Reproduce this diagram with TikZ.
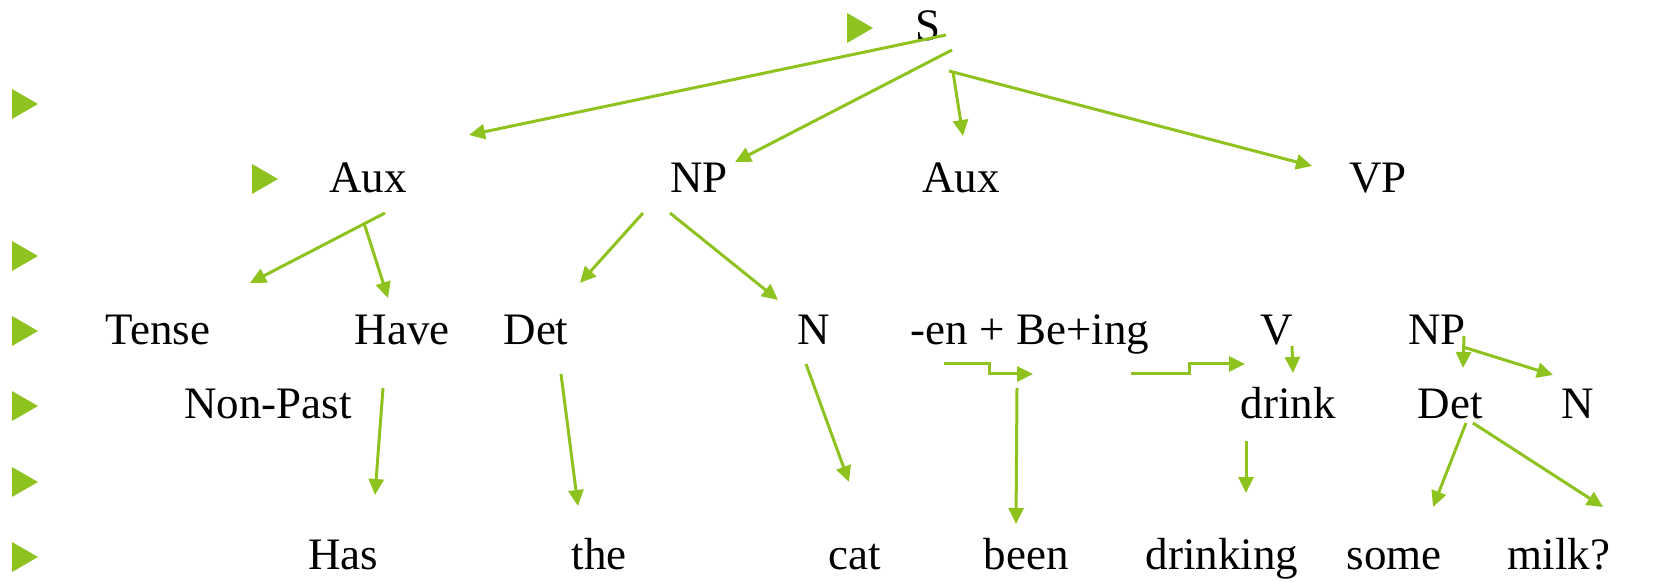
\documentclass[tikz,border=0pt]{standalone}
\usepackage{fontspec}
\setmainfont{Liberation Serif}
\usetikzlibrary{arrows.meta}
\definecolor{lg}{HTML}{8DC21F}
\begin{document}
\begin{tikzpicture}[x=0.5pt,y=-0.5pt,
  lbl/.style={anchor=base,inner sep=0pt,font=\fontsize{22.5pt}{27pt}\selectfont},
  arr/.style={draw=lg,line width=1.5pt,-{Triangle[length=8pt,width=7.5pt]}},
  ln/.style={draw=lg,line width=1.5pt}]
\useasboundingbox (0,0) rectangle (1653,582);
% bullets
\foreach \bx/\by in {847/28,12/104,252/179,12/256,12/331,12/406,12/482,12/557}
  \fill[lg] (\bx,\by-15) -- (\bx+26,\by) -- (\bx,\by+15) -- cycle;
% labels
\node[lbl] (S) at (928,41) {S};
\node[lbl] (aux1) at (368,193) {Aux};
\node[lbl] (np1) at (699,193) {NP};
\node[lbl] (aux2) at (961,193) {Aux};
\node[lbl] (vp) at (1378,193) {VP};
\node[lbl] (tense) at (158,345) {Tense};
\node[lbl] (have) at (402,345) {Have};
\node[lbl] (det1) at (536,345) {Det};
\node[lbl] (n1) at (814,345) {N};
\node[lbl] (enbe) at (1030,345) {-en + Be+ing};
\node[lbl] (v) at (1277,345) {V};
\node[lbl] (np2) at (1437,345) {NP};
\node[lbl] (nonpast) at (268,418) {Non-Past};
\node[lbl] (drink) at (1288,418) {drink};
\node[lbl] (det2) at (1450,418) {Det};
\node[lbl] (n2) at (1578,418) {N};
\node[lbl] (has) at (343,569) {Has};
\node[lbl] (the) at (599,569) {the};
\node[lbl] (cat) at (855,569) {cat};
\node[lbl] (been) at (1026,569) {been};
\node[lbl] (drinking) at (1222,569) {drinking};
\node[lbl] (some) at (1394,569) {some};
\node[lbl] (milk) at (1559,569) {milk?};
% arrow end points
\coordinate (sA) at (946,35);   \coordinate (aux1T) at (469,135);
\coordinate (sB) at (952,50);   \coordinate (np1T) at (735,162);
\coordinate (sC) at (953,72);   \coordinate (aux2T) at (963,136);
\coordinate (sD) at (949,71);   \coordinate (vpT) at (1312,166);
\coordinate (auxA) at (385,213); \coordinate (tenseT) at (250,283);
\coordinate (auxB) at (364,223); \coordinate (haveT) at (388,298);
\coordinate (npA) at (643,213);  \coordinate (det1T) at (580,283);
\coordinate (npB) at (670,213);  \coordinate (n1T) at (778,300);
\coordinate (haveB) at (383,388); \coordinate (hasT) at (375,495);
\coordinate (detB) at (561,374);  \coordinate (theT) at (578,506);
\coordinate (nB) at (806,364);    \coordinate (catT) at (849,482);
\coordinate (e1) at (944,364);    \coordinate (e1T) at (1033,374);
\coordinate (e2) at (1131,374);   \coordinate (e2T) at (1245,364);
\coordinate (bB) at (1017,388);   \coordinate (beenT) at (1016,524);
\coordinate (vB) at (1292,346);   \coordinate (drinkT) at (1293,373);
\coordinate (dB) at (1246,441);   \coordinate (drinkingT) at (1246,493);
\coordinate (npC) at (1464,336);  \coordinate (det2T) at (1463,368);
\coordinate (npD) at (1463,347);  \coordinate (n2T) at (1553,375);
\coordinate (dA) at (1466,423);   \coordinate (someT) at (1433,507);
\coordinate (dC) at (1473,423);   \coordinate (milkT) at (1603,507);
% arrows
\draw[arr] (sA) -- (aux1T);
\draw[arr] (sB) -- (np1T);
\draw[arr] (sC) -- (aux2T);
\draw[arr] (sD) -- (vpT);
\draw[arr] (auxA) -- (tenseT);
\draw[arr] (auxB) -- (haveT);
\draw[arr] (npA) -- (det1T);
\draw[arr] (npB) -- (n1T);
\draw[arr] (haveB) -- (hasT);
\draw[arr] (detB) -- (theT);
\draw[arr] (nB) -- (catT);
\draw[arr] (e1) -- (989,364) -- (989,374) -- (e1T);
\draw[arr] (e2) -- (1189,374) -- (1189,364) -- (e2T);
\draw[arr] (bB) -- (beenT);
\draw[arr] (vB) -- (drinkT);
\draw[arr] (dB) -- (drinkingT);
\draw[arr] (npC) -- (det2T);
\draw[arr] (npD) -- (n2T);
\draw[arr] (dA) -- (someT);
\draw[arr] (dC) -- (milkT);
\end{tikzpicture}
\end{document}
